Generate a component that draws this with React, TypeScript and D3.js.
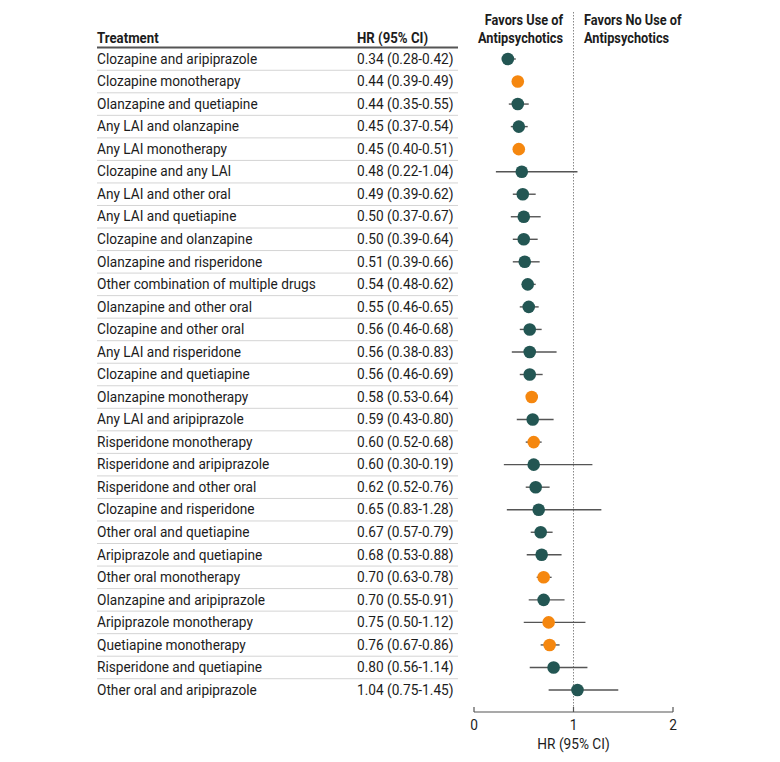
import React from "react";
import * as d3 from "d3";

const treatments = [
  "Clozapine and aripiprazole",
  "Clozapine monotherapy",
  "Olanzapine and quetiapine",
  "Any LAI and olanzapine",
  "Any LAI monotherapy",
  "Clozapine and any LAI",
  "Any LAI and other oral",
  "Any LAI and quetiapine",
  "Clozapine and olanzapine",
  "Olanzapine and risperidone",
  "Other combination of multiple drugs",
  "Olanzapine and other oral",
  "Clozapine and other oral",
  "Any LAI and risperidone",
  "Clozapine and quetiapine",
  "Olanzapine monotherapy",
  "Any LAI and aripiprazole",
  "Risperidone monotherapy",
  "Risperidone and aripiprazole",
  "Risperidone and other oral",
  "Clozapine and risperidone",
  "Other oral and quetiapine",
  "Aripiprazole and quetiapine",
  "Other oral monotherapy",
  "Olanzapine and aripiprazole",
  "Aripiprazole monotherapy",
  "Quetiapine monotherapy",
  "Risperidone and quetiapine",
  "Other oral and aripiprazole",
];
const hr = [0.34, 0.44, 0.44, 0.45, 0.45, 0.48, 0.49, 0.5, 0.5, 0.51, 0.54, 0.55, 0.56, 0.56, 0.56, 0.58, 0.59, 0.6, 0.6, 0.62, 0.65, 0.67, 0.68, 0.7, 0.7, 0.75, 0.76, 0.8, 1.04];
const lo = [0.28, 0.39, 0.35, 0.37, 0.4, 0.22, 0.39, 0.37, 0.39, 0.39, 0.48, 0.46, 0.46, 0.38, 0.46, 0.53, 0.43, 0.52, 0.3, 0.52, 0.33, 0.57, 0.53, 0.63, 0.55, 0.5, 0.67, 0.56, 0.75];
const hi = [0.42, 0.49, 0.55, 0.54, 0.51, 1.04, 0.62, 0.67, 0.64, 0.66, 0.62, 0.65, 0.68, 0.83, 0.69, 0.64, 0.8, 0.68, 1.19, 0.76, 1.28, 0.79, 0.88, 0.78, 0.91, 1.12, 0.86, 1.14, 1.45];
const ciText = [
  "0.34 (0.28-0.42)",
  "0.44 (0.39-0.49)",
  "0.44 (0.35-0.55)",
  "0.45 (0.37-0.54)",
  "0.45 (0.40-0.51)",
  "0.48 (0.22-1.04)",
  "0.49 (0.39-0.62)",
  "0.50 (0.37-0.67)",
  "0.50 (0.39-0.64)",
  "0.51 (0.39-0.66)",
  "0.54 (0.48-0.62)",
  "0.55 (0.46-0.65)",
  "0.56 (0.46-0.68)",
  "0.56 (0.38-0.83)",
  "0.56 (0.46-0.69)",
  "0.58 (0.53-0.64)",
  "0.59 (0.43-0.80)",
  "0.60 (0.52-0.68)",
  "0.60 (0.30-0.19)",
  "0.62 (0.52-0.76)",
  "0.65 (0.83-1.28)",
  "0.67 (0.57-0.79)",
  "0.68 (0.53-0.88)",
  "0.70 (0.63-0.78)",
  "0.70 (0.55-0.91)",
  "0.75 (0.50-1.12)",
  "0.76 (0.67-0.86)",
  "0.80 (0.56-1.14)",
  "1.04 (0.75-1.45)",
];
const xTicks = [0, 1, 2];

const FONT = "Roboto, 'Open Sans', sans-serif";
const TEAL = "#235653";
const ORANGE = "#f5870f";
const INK = "#1c1c1c";

function T({ x, y, children, bold = false, anchor = "start", sx = 0.9 }: any) {
  return (
    <text
      transform={`translate(${x},${y}) scale(${sx},1)`}
      fontSize={15.2}
      fontWeight={bold ? 700 : 400}
      fill={INK}
      textAnchor={anchor}
      dominantBaseline="central"
    >
      {children}
    </text>
  );
}

export default function App() {
  const W = 780;
  const H = 762;
  const x = d3.scaleLinear().domain([0, 2]).range([474, 673]);
  const y = d3.scalePoint<string>().domain(treatments).range([59, 690]);
  const step = y.step();
  const axisY = 712;
  const tableL = 97;
  const tableR = 458;
  const hrX = 357;

  return (
    <svg width={W} height={H} style={{ position: "absolute", left: 0, top: 0, background: "#fff" }} fontFamily={FONT}>
      <rect width={W} height={H} fill="#fff" />
      {/* headers */}
      <T x={tableL} y={38} bold sx={0.87}>Treatment</T>
      <T x={hrX} y={38} bold sx={0.87}>HR (95% CI)</T>
      <line x1={tableL} x2={tableR} y1={47.5} y2={47.5} stroke="#555" strokeWidth={2} />
      <T x={563} y={20} bold anchor="end" sx={0.84}>Favors Use of</T>
      <T x={563} y={38} bold anchor="end" sx={0.84}>Antipsychotics</T>
      <T x={584} y={20} bold sx={0.84}>Favors No Use of</T>
      <T x={584} y={38} bold sx={0.84}>Antipsychotics</T>

      {/* separators */}
      {treatments.slice(0, -1).map((t) => (
        <line key={"s" + t} x1={tableL} x2={tableR} y1={(y(t) as number) + step / 2} y2={(y(t) as number) + step / 2} stroke="#d4d4d4" strokeWidth={1} />
      ))}

      {/* reference line */}
      <line x1={x(1)} x2={x(1)} y1={12} y2={axisY} stroke="#888" strokeWidth={1} strokeDasharray="1.5,1.5" />

      {/* rows */}
      {treatments.map((t, i) => {
        const cy = y(t) as number;
        const mono = t.includes("monotherapy");
        return (
          <g key={t}>
            <T x={tableL} y={cy}>{t}</T>
            <T x={hrX} y={cy}>{ciText[i]}</T>
            <line x1={x(lo[i])} x2={x(hi[i])} y1={cy} y2={cy} stroke="#555" strokeWidth={1.4} />
            <circle cx={x(hr[i])} cy={cy} r={6.3} fill={mono ? ORANGE : TEAL} />
          </g>
        );
      })}

      {/* axis */}
      <line x1={x(0)} x2={x(2)} y1={axisY} y2={axisY} stroke="#555" strokeWidth={1.2} />
      {xTicks.map((v) => (
        <g key={v}>
          <line x1={x(v)} x2={x(v)} y1={axisY} y2={axisY - 5} stroke="#555" strokeWidth={1.2} />
          <T x={x(v)} y={725} anchor="middle">{v}</T>
        </g>
      ))}
      <T x={x(1)} y={744} anchor="middle">HR (95% CI)</T>
    </svg>
  );
}
